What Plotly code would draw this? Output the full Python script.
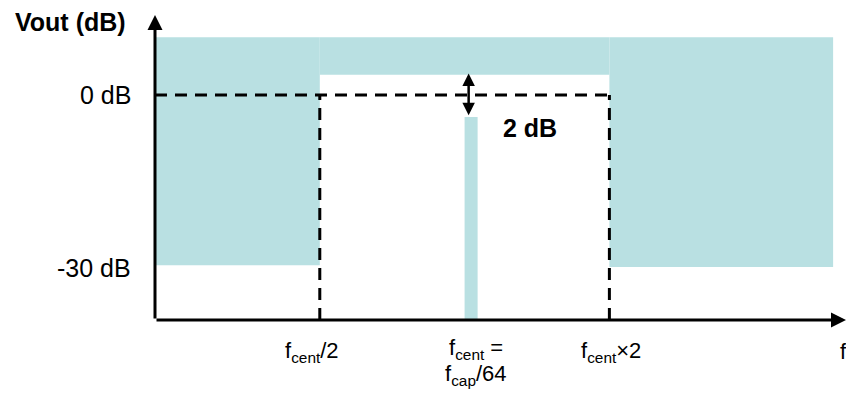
import plotly.graph_objects as go

# x in octaves relative to f_cent, y in dB
X_MIN, X_MAX = -2.138, 2.634
Y_MIN, Y_MAX = -39.0, 13.86

# shaded mask regions: (x0, x1, y0, y1)
mask_x0 = [X_MIN, -1.0, 1.0, 0.0]
mask_x1 = [-1.0, 1.0, 2.545, 0.09]
mask_y0 = [-29.5, 3.5, -29.8, Y_MIN]
mask_y1 = [10.0, 10.0, 10.0, -3.8]

# dashed template
ref_level = 0.0
edge_x = [-1.0, 1.0]

tick_db = [0, -30]
tick_db_text = ["0 dB", "-30 dB"]

freq_x = [-1.055, 1.014]
freq_text = ["f<sub>cent</sub>/2", "f<sub>cent</sub>×2"]

FILL = "#b9e0e2"
FONT = "Liberation Sans, Arial, sans-serif"


def px(x):
    return (x - X_MIN) / (X_MAX - X_MIN)


def py(y):
    return (y - Y_MIN) / (Y_MAX - Y_MIN)


def label(x, y, text, size, **kw):
    fig.add_annotation(x=px(x), y=py(y), xref="paper", yref="paper", text=text,
                       showarrow=False, xanchor=kw.pop("xanchor", "center"), yanchor="middle",
                       font=dict(size=size, color="black", family=FONT), **kw)


fig = go.Figure()
fig.add_trace(go.Scatter(x=[X_MIN, X_MAX], y=[Y_MIN, Y_MAX], mode="markers",
                         marker=dict(opacity=0), hoverinfo="skip", showlegend=False))

for x0, x1, y0, y1 in zip(mask_x0, mask_x1, mask_y0, mask_y1):
    fig.add_shape(type="rect", x0=x0, x1=x1, y0=y0, y1=y1, xref="x", yref="y",
                  fillcolor=FILL, line=dict(width=0), layer="below")

dash = dict(color="black", width=3, dash="12px,8px")
fig.add_shape(type="line", x0=X_MIN, x1=edge_x[1], y0=ref_level, y1=ref_level, line=dash)
for ex in edge_x:
    fig.add_shape(type="line", x0=ex, x1=ex, y0=Y_MIN, y1=ref_level, line=dash)

# axes with arrows
fig.add_annotation(x=X_MIN, y=Y_MAX, ax=X_MIN, ay=Y_MIN, xref="x", yref="y", axref="x", ayref="y",
                   text="", showarrow=True, arrowhead=2, arrowsize=1, arrowwidth=3, arrowcolor="black")
fig.add_annotation(x=X_MAX, y=Y_MIN, ax=X_MIN, ay=Y_MIN, xref="x", yref="y", axref="x", ayref="y",
                   text="", showarrow=True, arrowhead=2, arrowsize=1, arrowwidth=3, arrowcolor="black")

# 2 dB double arrow
fig.add_annotation(x=0.028, y=-3.5, ax=0.028, ay=4.0, xref="x", yref="y", axref="x", ayref="y",
                   text="", showarrow=True, arrowhead=2, startarrowhead=2, arrowside="end+start",
                   arrowsize=1, startarrowsize=1, arrowwidth=2.5, arrowcolor="black")
label(0.455, -5.7, "<b>2 dB</b>", 25)

label(-2.72, 12.65, "<b>Vout (dB)</b>", 25)
for v, t in zip(tick_db, tick_db_text):
    label(-2.29, v, t, 25, xanchor="right")

for fx, t in zip(freq_x, freq_text):
    label(fx, -44.5, t, 22)
label(0.076, -44.0, "f<sub>cent</sub> =", 22)
label(0.076, -48.6, "f<sub>cap</sub>/64", 22)
label(2.58, -44.5, "f", 22, xanchor="left")

fig.update_layout(
    width=846, height=401,
    margin=dict(l=155, r=0, t=15, b=81),
    paper_bgcolor="white", plot_bgcolor="white",
    font=dict(family=FONT, color="black"),
    xaxis=dict(range=[X_MIN, X_MAX], visible=False, fixedrange=True),
    yaxis=dict(range=[Y_MIN, Y_MAX], visible=False, fixedrange=True),
    showlegend=False,
)
fig.write_html("out.html", config={"displayModeBar": False},
               post_script="document.body.style.margin='0';document.body.style.overflow='hidden';")
